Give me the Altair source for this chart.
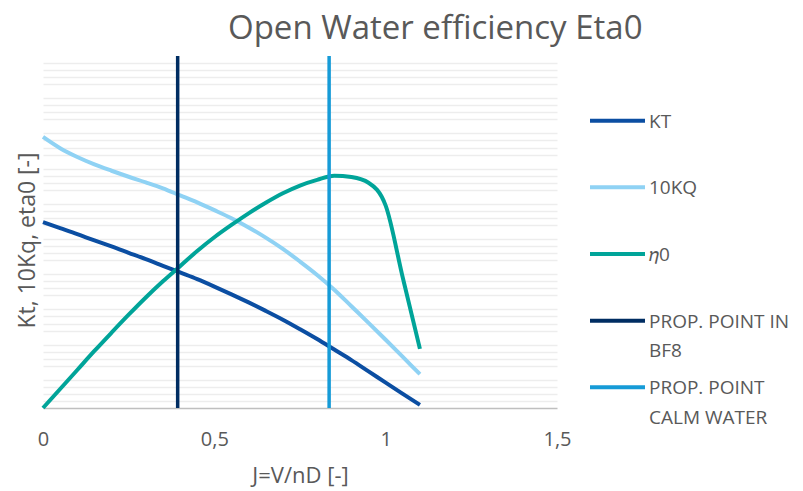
import altair as alt
import pandas as pd

# ---- data ----
J = [0.0, 0.05, 0.1, 0.15, 0.2, 0.25, 0.3, 0.35, 0.4, 0.45, 0.5, 0.55,
     0.6, 0.65, 0.7, 0.75, 0.8, 0.85, 0.9, 0.95, 1.0, 1.05, 1.1]
KT = [0.528, 0.511, 0.494, 0.476, 0.459, 0.441, 0.423, 0.404, 0.385, 0.366, 0.345, 0.323,
      0.300, 0.276, 0.251, 0.224, 0.196, 0.166, 0.136, 0.104, 0.072, 0.040, 0.009]
KQ10 = [0.770, 0.738, 0.713, 0.692, 0.674, 0.657, 0.641, 0.624, 0.604, 0.584, 0.562, 0.539,
        0.513, 0.484, 0.452, 0.416, 0.378, 0.336, 0.289, 0.242, 0.194, 0.145, 0.096]
ETA0 = [0.0, 0.054, 0.108, 0.162, 0.214, 0.265, 0.314, 0.360, 0.403, 0.446, 0.485, 0.520,
        0.553, 0.583, 0.610, 0.632, 0.648, 0.660, 0.656, 0.640, 0.575, 0.370, 0.168]
J_PROP = [0.393, 0.835]

NAMES = ["KT", "10KQ", "𝜂0", "PROP. POINT IN BF8", "PROP. POINT CALM WATER"]
LABELS = ["KT", "10KQ", "𝜂0", "PROP. POINT IN\nBF8", "PROP. POINT\nCALM WATER"]
COLORS = ["#0B4EA2", "#8FD2F4", "#00A499", "#002D62", "#169BD7"]
X_TICKS = [0, 0.5, 1, 1.5]

GRID_VALUES = [round(i * 0.02, 2) for i in range(1, 50) if i % 5]

TEXT = "#595959"
FONT = "Open Sans"

n = len(J)
curves = pd.DataFrame({
    "J": J * 3,
    "value": KT + KQ10 + ETA0,
    "series": [NAMES[0]] * n + [NAMES[1]] * n + [NAMES[2]] * n,
})
props = pd.DataFrame({"J": J_PROP, "series": NAMES[3:]})

color_scale = alt.Scale(domain=NAMES, range=COLORS)

x_enc = alt.X(
    "J:Q",
    scale=alt.Scale(domain=[0, 1.5], nice=False, zero=False),
    axis=alt.Axis(
        values=X_TICKS,
        labelExpr="replace(toString(datum.value), '.', ',')",
        labelFlush=False,
        title="J=V/nD [-]",
        grid=False, ticks=False,
        domainColor="#BFBFBF", domainWidth=1.5,
        labelFontSize=20, labelColor=TEXT, labelPadding=21, labelFont=FONT,
        titleFontSize=22, titleColor=TEXT, titleFont=FONT, titleFontWeight="normal",
        titlePadding=16,
    ),
)
y_enc = alt.Y(
    "value:Q",
    scale=alt.Scale(domain=[0, 1], nice=False),
    axis=alt.Axis(
        values=GRID_VALUES,
        labels=False, ticks=False, domain=False,
        grid=True, gridColor="#EDEDED", gridWidth=1.3,
        title="Kt, 10Kq, eta0 [-]",
        titleFontSize=23, titleColor=TEXT, titleFont=FONT, titleFontWeight="normal",
        titlePadding=4, titleY=184,
    ),
)

lines = alt.Chart(curves).mark_line(strokeWidth=4, interpolate="monotone").encode(
    x=x_enc, y=y_enc,
    color=alt.Color("series:N", scale=color_scale, legend=None),
)
rules = alt.Chart(props).mark_rule(strokeWidth=3.5).encode(
    x=alt.X("J:Q"),
    color=alt.Color("series:N", scale=color_scale, legend=None),
)
main = alt.layer(lines, rules).properties(width=514, height=352)

# ---- legend panel ----
leg_df = pd.DataFrame({"series": NAMES, "label": LABELS})
leg_base = alt.Chart(leg_df).encode(
    y=alt.Y("series:N", sort=NAMES, scale=alt.Scale(type="point", padding=0.97), axis=None)
)
leg_rules = leg_base.mark_rule(strokeWidth=4).encode(
    x=alt.value(0), x2=alt.value(55),
    color=alt.Color("series:N", scale=color_scale, legend=None),
)
leg_text = leg_base.mark_text(
    align="left", baseline="alphabetic", dy=7, fontSize=19, font=FONT,
    color=TEXT, lineBreak="\n", lineHeight=29.5,
).encode(x=alt.value(59), text="label:N")
legend = alt.layer(leg_rules, leg_text).properties(width=150, height=396)

chart = alt.hconcat(main, legend, spacing=16).properties(
    title=alt.TitleParams(
        "Open Water efficiency Eta0", fontSize=33, font=FONT, color=TEXT,
        fontWeight="normal", anchor="start", dx=212, offset=8,
    ),
    padding={"left": 8, "top": 5, "right": 0, "bottom": 2},
    background="white",
).configure_view(stroke=None)

chart.save("out.html", embed_options={"renderer": "svg", "actions": False})
